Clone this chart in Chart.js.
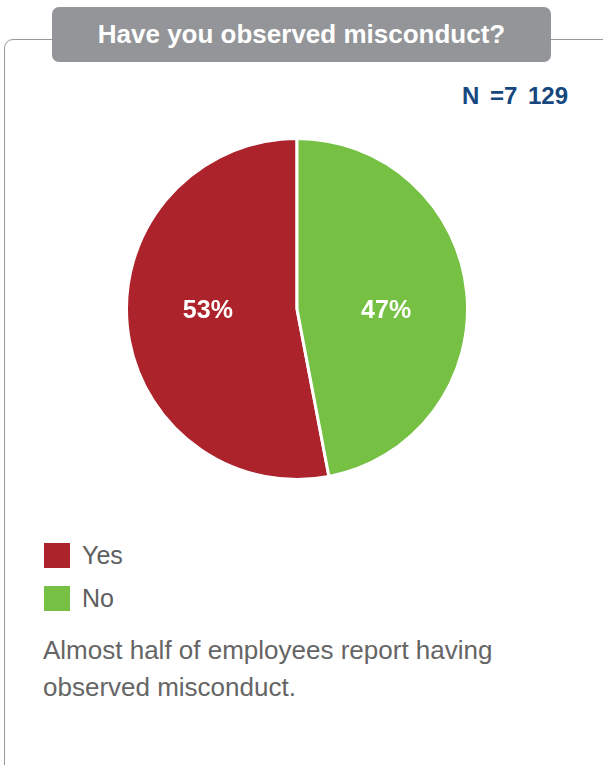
<!DOCTYPE html>
<html>
<head>
<meta charset="utf-8">
<script src="https://cdn.jsdelivr.net/npm/chart.js@4"></script>
<style>
  html, body { margin: 0; padding: 0; background: #fff; }
  body { width: 603px; height: 765px; position: relative; overflow: hidden;
         font-family: "Liberation Sans", Arial, sans-serif; }
  .frame { position: absolute; left: 4px; top: 39px; width: 640px; height: 760px;
           border: 1px solid #9a9a9a; border-radius: 9px; }
  .tab { position: absolute; left: 52px; top: 7px; width: 499px; height: 55px;
         background: #939598; border-radius: 7px; color: #fff; font-weight: bold;
         font-size: 26px; line-height: 55px; text-align: center; }
  .n { position: absolute; right: 35px; top: 82px; color: #16477f; font-weight: bold;
       font-size: 24px; white-space: pre; word-spacing: 4px; }
  .chart-box { position: absolute; left: 125px; top: 137px; width: 344px; height: 344px; }
  .legend { position: absolute; left: 44px; top: 543px; }
  .legend div { height: 25px; margin-bottom: 18px; font-size: 25px; color: #5e5e5e;
                display: flex; align-items: center; }
  .legend span { display: inline-block; width: 26px; height: 25px; margin-right: 12px; }
  .caption { position: absolute; left: 43px; top: 632px; width: 470px; font-size: 26px;
             line-height: 37px; color: #656565; }
</style>
</head>
<body>
<div class="frame"></div>
<div class="tab" id="title"></div>
<div class="n" id="count"></div>
<div class="chart-box"><canvas id="pie"></canvas></div>
<div class="legend" id="legend"></div>
<div class="caption" id="caption"></div>

<script>
// ---------------- Daten ----------------
const categories = ['Yes', 'No'];
const shares = [53, 47];
const colors = ['#ad232c', '#76c043'];
const titleText = 'Have you observed misconduct?';
const countText = 'N =7 129';
const captionText = 'Almost half of employees report having observed misconduct.';

document.getElementById('title').textContent = titleText;
document.getElementById('count').textContent = countText;
document.getElementById('caption').textContent = captionText;

// Legende aus den Kategorien bauen
const legendEl = document.getElementById('legend');
categories.forEach((c, i) => {
  const row = document.createElement('div');
  const box = document.createElement('span');
  box.style.background = colors[i];
  row.appendChild(box);
  row.appendChild(document.createTextNode(c));
  legendEl.appendChild(row);
});

// Prozentwerte in die Segmente schreiben (gleiche Höhe wie die Mitte)
const pctLabels = {
  id: 'pctLabels',
  afterDatasetsDraw(chart) {
    const ctx = chart.ctx;
    const meta = chart.getDatasetMeta(0);
    ctx.save();
    ctx.fillStyle = '#fff';
    ctx.font = 'bold 25px "Liberation Sans", Arial, sans-serif';
    ctx.textAlign = 'center';
    ctx.textBaseline = 'middle';
    meta.data.forEach((arc, i) => {
      const p = arc.tooltipPosition();
      const x = arc.x + (p.x - arc.x) * 1.05;
      ctx.fillText(shares[i] + '%', x, arc.y + 2);
    });
    ctx.restore();
  }
};

// Yes beginnt dort, wo No endet (No läuft ab 12 Uhr im Uhrzeigersinn)
const startYes = shares[1] / 100 * 360;

new Chart(document.getElementById('pie'), {
  type: 'pie',
  data: {
    labels: categories,
    datasets: [{
      data: shares,
      backgroundColor: colors,
      borderColor: '#fff',
      borderWidth: 3
    }]
  },
  options: {
    responsive: true,
    maintainAspectRatio: false,
    animation: false,
    rotation: startYes,
    layout: { padding: 0 },
    plugins: {
      legend: { display: false },
      tooltip: { enabled: false }
    }
  },
  plugins: [pctLabels]
});
</script>
</body>
</html>
